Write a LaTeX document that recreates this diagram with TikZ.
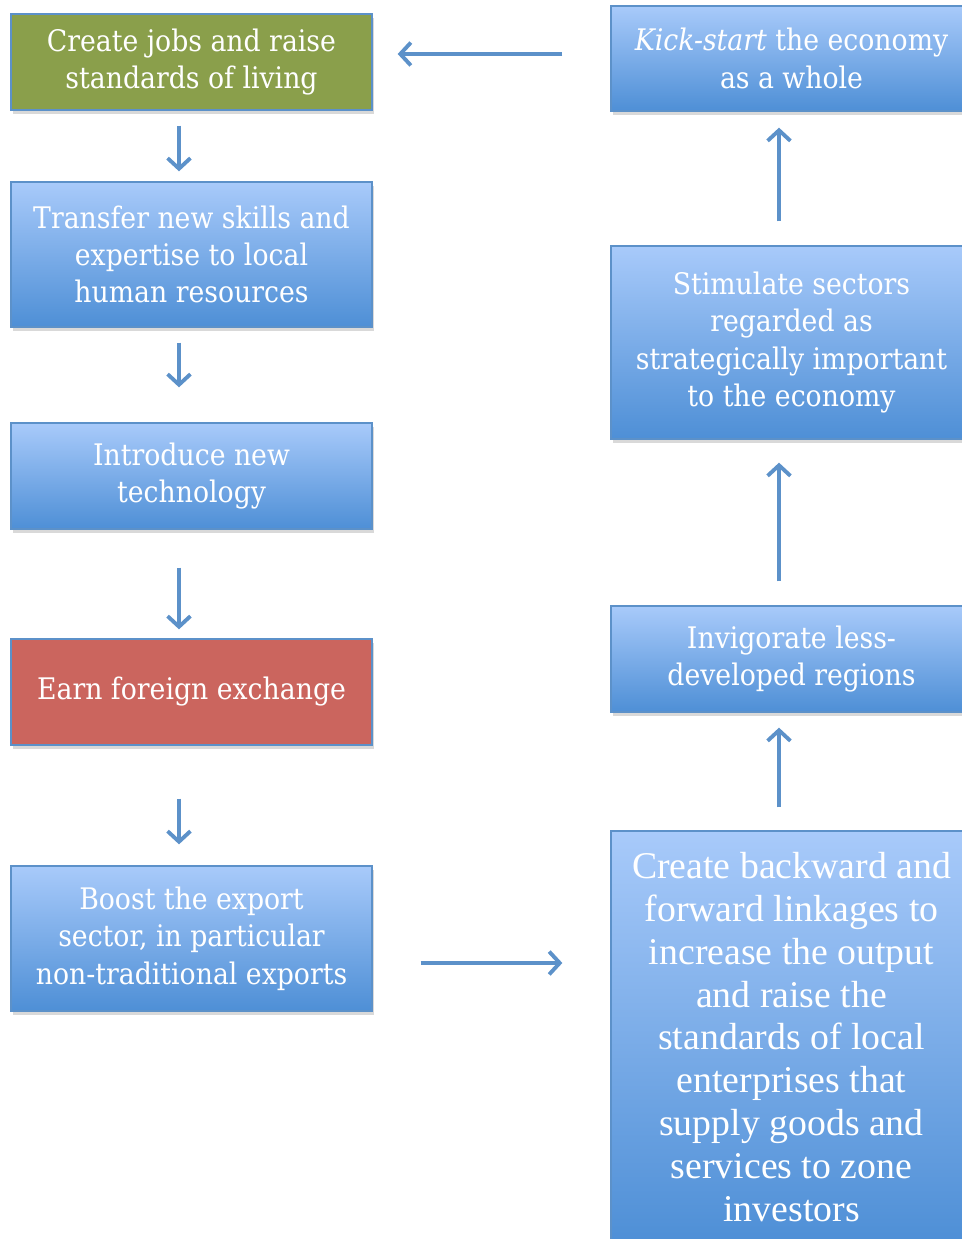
\documentclass[tikz,border=0pt]{standalone}
\usepackage{fontspec}
\newfontfamily\timesfont{Liberation Serif}
\newfontfamily\boxfont{DejaVu Serif Condensed}
\usepackage{xcolor}
\usetikzlibrary{arrows.meta,shadows}
\definecolor{flowblue}{RGB}{92,145,201}
\definecolor{boxtop}{RGB}{168,202,250}
\definecolor{boxbot}{RGB}{78,143,214}
\definecolor{jobgreen}{RGB}{138,159,75}
\definecolor{fxred}{RGB}{203,101,94}
\begin{document}
\begin{tikzpicture}[x=0.02cm,y=-0.02cm,
box/.style={draw=flowblue,line width=0.8pt,text=white,align=center,
  minimum width=7.22cm,inner sep=2pt,font=\boxfont\fontsize{16.9}{21.3}\selectfont,
  drop shadow={shadow xshift=1.2pt,shadow yshift=-2.2pt,opacity=0.3}},
bluebox/.style={box,top color=boxtop,bottom color=boxbot},
flow/.style={draw=flowblue,line width=2.2pt,-{Straight Barb[length=6pt,width=13pt]}}
]
% The frame
\useasboundingbox (0,0) rectangle (962,1239);
\clip (0,0) rectangle (962,1239);

% The left column
\node[box,fill=jobgreen,minimum height=1.92cm] (jobs) at (191.5,62) {Create jobs and raise\\standards of living};
\node[bluebox,minimum height=2.9cm] (skills) at (191.5,254.5) {Transfer new skills and\\expertise to local\\human resources};
\node[bluebox,minimum height=2.12cm] (tech) at (191.5,476) {Introduce new\\technology};
\node[box,fill=fxred,minimum height=2.12cm] (forex) at (191.5,692) {Earn foreign exchange};
\node[bluebox,minimum height=2.9cm] (export) at (191.5,938.5) {Boost the export\\sector, in particular\\non-traditional exports};

% The right column
\node[bluebox,minimum height=2.1cm] (kick) at (791.5,58.5) {\textit{Kick-start} the economy\\as a whole};
\node[bluebox,minimum height=3.86cm] (sectors) at (791.5,342.5) {Stimulate sectors\\regarded as\\strategically important\\to the economy};
\node[bluebox,minimum height=2.12cm] (regions) at (791.5,659) {Invigorate less-\\developed regions};
\node[bluebox,minimum height=8.24cm,font=\timesfont\fontsize{21.5}{24.4}\selectfont] (links) at (791.5,1037)
  {Create backward and\\forward linkages to\\increase the output\\and raise the\\standards of local\\enterprises that\\supply goods and\\services to zone\\investors};

% The arrows
\draw[flow,shorten <=0.3cm,shorten >=0.2cm] ([xshift=-0.25cm]jobs.south) -- ([xshift=-0.25cm]skills.north);
\draw[flow,shorten <=0.3cm,shorten >=0.7cm] ([xshift=-0.25cm]skills.south) -- ([xshift=-0.25cm]tech.north);
\draw[flow,shorten <=0.76cm,shorten >=0.18cm] ([xshift=-0.25cm]tech.south) -- ([xshift=-0.25cm]forex.north);
\draw[flow,shorten <=1.06cm,shorten >=0.42cm] ([xshift=-0.25cm]forex.south) -- ([xshift=-0.25cm]export.north);
\draw[flow,shorten <=0.96cm,shorten >=0.96cm] ([yshift=-0.49cm]export.east) -- ([yshift=-0.49cm]export.east -| links.west);
\draw[flow,shorten <=0.46cm,shorten >=0.3cm] ([xshift=-0.25cm]links.north) -- ([xshift=-0.25cm]regions.south);
\draw[flow,shorten <=0.48cm,shorten >=0.46cm] ([xshift=-0.25cm]regions.north) -- ([xshift=-0.25cm]sectors.south);
\draw[flow,shorten <=0.48cm,shorten >=0.32cm] ([xshift=-0.25cm]sectors.north) -- ([xshift=-0.25cm]kick.south);
\draw[flow,shorten <=0.96cm,shorten >=0.5cm] ([yshift=0.09cm]kick.west) -- ([yshift=0.09cm]kick.west -| jobs.east);
\end{tikzpicture}
\end{document}
